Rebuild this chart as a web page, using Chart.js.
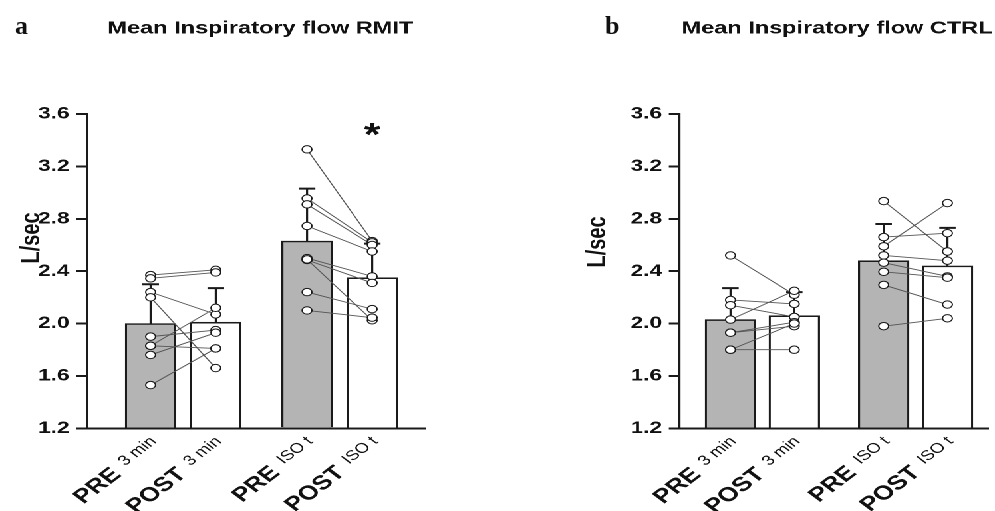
<!DOCTYPE html>
<html><head><meta charset="utf-8">
<script src="https://cdn.jsdelivr.net/npm/chart.js@4.4.1/dist/chart.umd.min.js"></script>
<style>
html,body{margin:0;padding:0;background:#fff;overflow:hidden;width:995px;height:511px;}
#wrap{position:absolute;left:0;top:0;width:748px;height:511px;transform-origin:0 0;transform:scaleX(1.3302);}
#wrap canvas{position:absolute;top:0;}
.tag{position:absolute;font-family:'Liberation Serif',serif;font-weight:bold;font-size:26px;color:#111;line-height:1;}
</style></head><body>
<div id="wrap">
<canvas id="ca" width="374" height="511" style="left:0"></canvas>
<canvas id="cb" width="374" height="511" style="left:374px"></canvas>
</div>
<div class="tag" style="left:15px;top:12.5px">a</div>
<div class="tag" style="left:605px;top:13px">b</div>
<script>
// ---- data ----
const yTicks = [1.2, 1.6, 2.0, 2.4, 2.8, 3.2, 3.6];
const categories = ['PRE', 'POST', 'PRE', 'POST'];
const subLabels = ['3 min', '3 min', 'ISO t', 'ISO t'];

const rmitMeans = [2.00, 2.01, 2.63, 2.35];
const rmitSD = [0.30, 0.26, 0.40, 0.26];
const rmitPre3 = [2.37, 2.345, 2.24, 2.20, 1.90, 1.83, 1.83, 1.76, 1.53];
const rmitPost3 = [2.41, 2.39, 2.07, 1.66, 1.95, 2.12, 1.81, 1.93, 1.81];
const rmitPreIso = [3.33, 2.955, 2.91, 2.745, 2.50, 2.485, 2.49, 2.24, 2.10];
const rmitPostIso = [2.63, 2.62, 2.60, 2.55, 2.36, 2.31, 2.025, 2.11, 2.045];
const rmitSignificant = [false, false, false, true];

const ctrlMeans = [2.03, 2.06, 2.48, 2.44];
const ctrlSD = [0.24, 0.18, 0.28, 0.29];
const ctrlPre3 = [2.52, 2.18, 2.14, 2.03, 1.93, 1.93, 1.80, 1.80];
const ctrlPost3 = [2.22, 2.15, 2.05, 2.25, 2.01, 1.98, 2.00, 1.80];
const ctrlPreIso = [2.935, 2.66, 2.59, 2.52, 2.465, 2.395, 2.295, 1.98];
const ctrlPostIso = [2.55, 2.69, 2.92, 2.48, 2.36, 2.35, 2.145, 2.04];
const ctrlSignificant = [false, false, false, false];

// ---- layout / style ----
const POS = [1, 2, 3.4, 4.4];
const CAP = 0.128;
const FONT = '"Liberation Sans", Arial, sans-serif';
const INK = '#1a1a1a';

const textPlugin = {
  id: 'panelText',
  afterDraw(chart, args, o) {
    const ctx = chart.ctx, xs = chart.scales.x, ys = chart.scales.y;
    ctx.save();
    ctx.fillStyle = '#111';
    ctx.font = 'bold 17.7px ' + FONT;
    ctx.textAlign = 'center'; ctx.textBaseline = 'alphabetic';
    ctx.fillText(o.title, o.titleX, 33.3);
    ctx.save();
    ctx.translate(o.yTitleX, o.yTitleY); ctx.rotate(-Math.PI / 2);
    ctx.font = 'bold 20px ' + FONT; ctx.textAlign = 'center'; ctx.textBaseline = 'middle';
    ctx.fillText('L/sec', 0, 0);
    ctx.restore();
    POS.forEach((p, i) => {
      const x = xs.getPixelForValue(p) + 5, y = 442;
      ctx.save(); ctx.translate(x, y); ctx.rotate(-Math.PI / 4);
      ctx.textAlign = 'right'; ctx.textBaseline = 'alphabetic';
      ctx.font = '14px ' + FONT;
      ctx.fillText(subLabels[i], 0, 0);
      const w2 = ctx.measureText(subLabels[i]).width;
      ctx.font = 'bold 20px ' + FONT;
      ctx.fillText(categories[i], -w2 - 8, 5);
      ctx.restore();
    });
    o.significant.forEach((s, i) => {
      if (!s) return;
      ctx.font = 'bold 32px ' + FONT; ctx.textAlign = 'center'; ctx.textBaseline = 'alphabetic';
      ctx.fillText('*', xs.getPixelForValue(POS[i]), ys.getPixelForValue(3.5) + 18.5);
    });
    ctx.restore();
  }
};

function buildDatasets(means, sd, pairs3, pairsIso) {
  const ds = [];
  ds.push({
    type: 'bar', order: 5,
    data: POS.map((p, i) => ({ x: p, y: means[i] })),
    backgroundColor: ['#b4b4b4', '#ffffff', '#b4b4b4', '#ffffff'],
    borderColor: INK, borderWidth: 1.6, borderSkipped: 'start',
    barThickness: 38, base: 1.2
  });
  POS.forEach((p, i) => {
    const top = means[i] + sd[i];
    ds.push({ type: 'line', order: 4, data: [{ x: p, y: means[i] }, { x: p, y: top }],
      borderColor: INK, borderWidth: 1.6, pointRadius: 0 });
    ds.push({ type: 'line', order: 4, data: [{ x: p - CAP, y: top }, { x: p + CAP, y: top }],
      borderColor: INK, borderWidth: 2, pointRadius: 0 });
  });
  const pts = [];
  const addPairs = (pre, post, a, b) => {
    pre.forEach((v, k) => {
      ds.push({ type: 'line', order: 3, data: [{ x: POS[a], y: v }, { x: POS[b], y: post[k] }],
        borderColor: '#555', borderWidth: 0.9, pointRadius: 0 });
      pts.push({ x: POS[a], y: v }); pts.push({ x: POS[b], y: post[k] });
    });
  };
  addPairs(pairs3[0], pairs3[1], 0, 1);
  addPairs(pairsIso[0], pairsIso[1], 2, 3);
  ds.push({ type: 'scatter', order: 0, data: pts, pointRadius: 3.7,
    pointBackgroundColor: '#ffffff', pointBorderColor: INK, pointBorderWidth: 1 });
  return ds;
}

function makeChart(id, datasets, xMin, xMax, padL, padR, textOpts) {
  return new Chart(document.getElementById(id), {
    data: { datasets },
    options: {
      responsive: false, animation: false, devicePixelRatio: 2, events: [],
      layout: { padding: { left: padL, right: padR, top: 114, bottom: 82.7 } },
      plugins: { legend: { display: false }, tooltip: { enabled: false }, title: { display: false }, panelText: textOpts },
      scales: {
        x: { type: 'linear', min: xMin, max: xMax, display: true, offset: false,
          ticks: { display: false }, grid: { display: false, drawTicks: false, offset: false },
          border: { display: true, color: INK, width: 2 },
          afterFit: s => { s.height = 0; } },
        y: { type: 'linear', min: 1.2, max: 3.6,
          afterBuildTicks: s => { s.ticks = yTicks.map(v => ({ value: v })); },
          ticks: { font: { family: FONT, size: 17, weight: 'bold' }, color: '#111', padding: 5,
            callback: v => Number(v).toFixed(1) },
          grid: { display: true, drawOnChartArea: false, drawTicks: true, tickLength: 8, color: INK, lineWidth: 2 },
          border: { display: true, color: INK, width: 1.6 },
          afterFit: s => { s.width = 60; } }
      }
    },
    plugins: [textPlugin]
  });
}

makeChart('ca', buildDatasets(rmitMeans, rmitSD, [rmitPre3, rmitPost3], [rmitPreIso, rmitPostIso]),
  0.02, 5.22, 5.2, 54,
  { title: 'Mean Inspiratory flow RMIT', titleX: 195.7, yTitleX: 24, yTitleY: 238, significant: rmitSignificant });
makeChart('cb', buildDatasets(ctrlMeans, ctrlSD, [ctrlPre3, ctrlPost3], [ctrlPreIso, ctrlPostIso]),
  0.2, 5.04, 76.8, 0,
  { title: 'Mean Inspiratory flow CTRL', titleX: 255.3, yTitleX: 75.6, yTitleY: 242, significant: ctrlSignificant });
</script>
</body></html>
